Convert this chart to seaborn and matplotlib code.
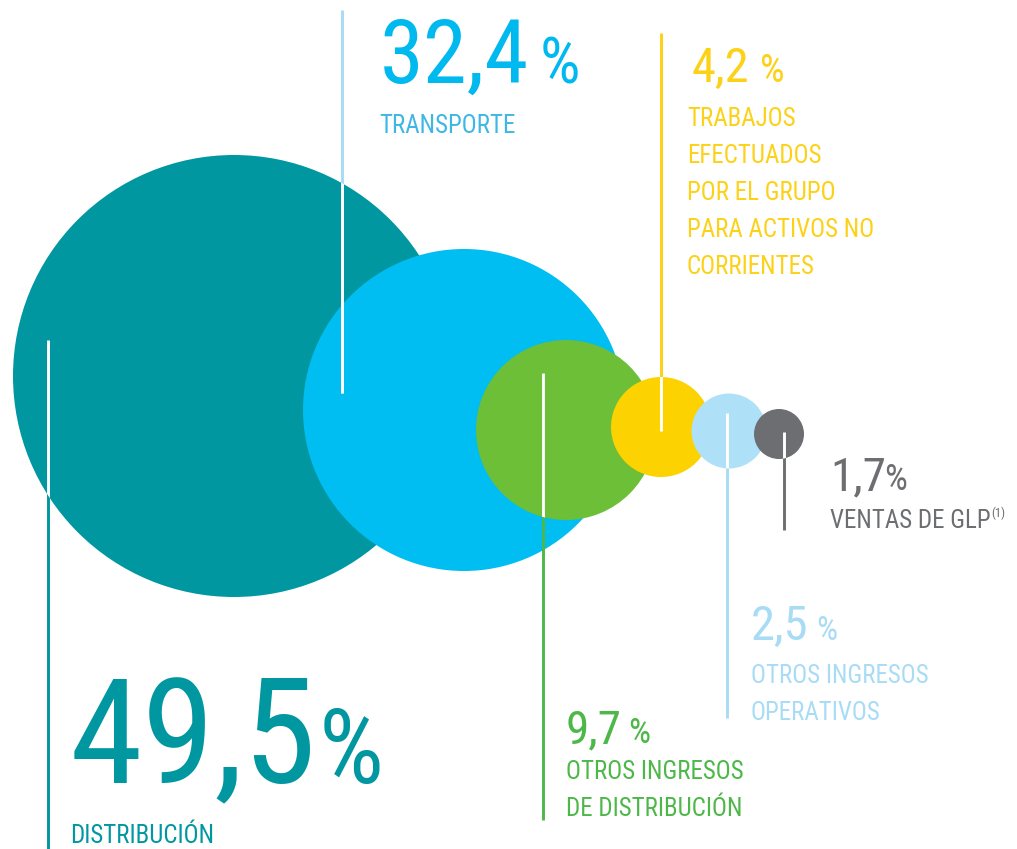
import os
import pandas as pd
import matplotlib.pyplot as plt
import seaborn as sns
from matplotlib.patches import Circle
from matplotlib import font_manager

# revenue breakdown (%)
segments = ["distribucion", "transporte", "otros_distribucion", "trabajos_grupo",
            "otros_operativos", "ventas_glp"]
shares = [49.5, 32.4, 9.7, 4.2, 2.5, 1.7]
labels = [
    ["DISTRIBUCIÓN"],
    ["TRANSPORTE"],
    ["OTROS INGRESOS", "DE DISTRIBUCIÓN"],
    ["TRABAJOS", "EFECTUADOS", "POR EL GRUPO", "PARA ACTIVOS NO", "CORRIENTES"],
    ["OTROS INGRESOS", "OPERATIVOS"],
    ["VENTAS DE GLP"],
]

# layout (pixels, origin top-left)
circle_x = [234, 464, 566, 661, 729, 779]
circle_y = [376, 410, 430, 427, 431, 434]
circle_r = [221, 161, 90, 50, 37.5, 25]
circle_colors = ["#0097a1", "#00bdf2", "#6cbf37", "#fcd200", "#aee0f8", "#6d6e71"]
text_colors = ["#0097a1", "#00b9ef", "#4db848", "#fcd116", "#a8dcf5", "#6d6e71"]
label_colors = ["#0097a1", "#3db7e4", "#4db848", "#fcd116", "#a8dcf5", "#6d6e71"]
line_colors = ["#0097a1", "#a6dcf4", "#4db848", "#fcd116", "#a8dcf5", "#6d6e71"]

line_x = [48, 342, 543, 661, 727, 784]
line_y = [(340, 849), (10, 393), (373, 820), (33, 431), (413, 718), (432, 530)]
white_in = [0, 0, 2, 3, 4, 5]  # circle where the leader line turns white

num_pos = [(70, 783), (380, 83), (566, 743), (692, 82), (751, 640), (830, 490)]
num_size = [106, 64, 34, 35, 35, 34]
pct_size = [74, 46, 25, 28, 24, 26]
pct_gap = [1, 10, 6, 10, 8, -2]
lab_pos = [(70, 843), (379, 133), (566, 779), (687, 126), (751, 683), (830, 528)]
lab_step = 37
lab_size = 18

# condensed face, closest to the original artwork
prefs = ["robotocondensed-regular", "notosans-condensed.",
         "liberationsansnarrow-regular", "dejavusanscondensed."]
files = [os.path.basename(f.fname).lower() for f in font_manager.fontManager.ttflist]
paths = [f.fname for f in font_manager.fontManager.ttflist]
fp = None
for p in prefs:
    hits = [paths[k] for k, b in enumerate(files) if b.startswith(p)]
    if hits:
        fp = hits[0]
        break

sns.set_style("white")
plt.rcParams["font.family"] = ["DejaVu Sans"]


def txt(x, y, s, size, color):
    prop = font_manager.FontProperties(fname=fp, size=size) if fp else \
        font_manager.FontProperties(family="DejaVu Sans", size=size * 0.85)
    return ax.text(x, y, s, fontproperties=prop, color=color,
                   ha="left", va="baseline")


W, H = 1017, 849
fig = plt.figure(figsize=(W / 100, H / 100), dpi=100)
ax = fig.add_axes([0, 0, 1, 1])

df = pd.DataFrame({"segment": segments, "share": shares,
                   "x": circle_x, "y": circle_y, "r": circle_r})
# marker area in points^2 (1 px = 0.72 pt at 100 dpi)
df["area"] = (2 * df["r"] * 0.72) ** 2
sns.scatterplot(data=df, x="x", y="y", hue="segment", size="area",
                sizes=(df["area"].min(), df["area"].max()),
                palette=dict(zip(segments, circle_colors)),
                linewidth=0, alpha=1, legend=False, ax=ax)
ax.set_xlim(0, W)
ax.set_ylim(H, 0)
ax.axis("off")

# leader lines: coloured outside, white over the circle
for i in range(len(segments)):
    y0, y1 = line_y[i]
    ax.plot([line_x[i]] * 2, [y0, y1], color=line_colors[i], lw=2.1,
            solid_capstyle="butt", zorder=5)
    j = white_in[i]
    wl, = ax.plot([line_x[i]] * 2, [y0, y1], color="white", lw=2.1,
                  solid_capstyle="butt", zorder=6)
    wl.set_clip_path(Circle((circle_x[j], circle_y[j]), circle_r[j],
                            transform=ax.transData))

renderer = fig.canvas.get_renderer()
inv = ax.transData.inverted()
for i, v in enumerate(shares):
    x, y = num_pos[i]
    t = txt(x, y, f"{v:.1f}".replace(".", ","), num_size[i], text_colors[i])
    bb = t.get_window_extent(renderer)
    x_end = inv.transform((bb.x1, bb.y0))[0]
    txt(x_end + pct_gap[i], y, "%", pct_size[i], text_colors[i])
    lx, ly = lab_pos[i]
    for k, line in enumerate(labels[i]):
        lt = txt(lx, ly + k * lab_step, line, lab_size, label_colors[i])
    if segments[i] == "ventas_glp":
        bb = lt.get_window_extent(renderer)
        x_end = inv.transform((bb.x1, bb.y0))[0]
        txt(x_end + 1, ly - 11, "(1)", 9, label_colors[i])

fig.savefig("out.png", dpi=100)
